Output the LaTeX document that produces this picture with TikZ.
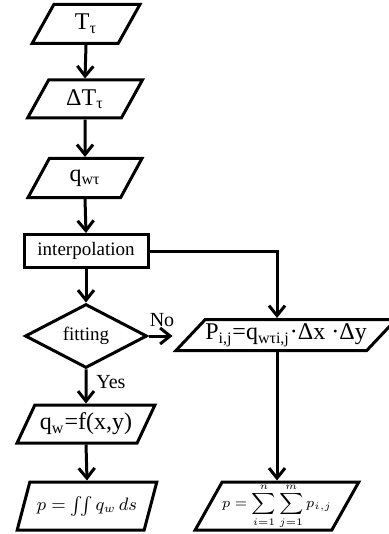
\documentclass[tikz,border=0pt]{standalone}
\usepackage{amsmath}
\usepackage{fontspec}
\setmainfont{Liberation Serif}
\usetikzlibrary{positioning,arrows.meta,shapes.geometric}

\begin{document}
\begin{tikzpicture}[x=0.5pt,y=-0.5pt,
    every node/.style={font=\fontsize{12}{14}\selectfont,align=center,inner sep=0pt},
    io/.style 2 args={trapezium,trapezium left angle=#1,trapezium right angle=#2,
                      trapezium stretches=true,draw,line width=1.5pt},
    proc/.style={rectangle,draw,line width=1.5pt,font=\fontsize{9.5}{11}\selectfont},
    decide/.style={diamond,draw,line width=1.5pt,font=\fontsize{9.5}{11}\selectfont},
    formula/.style={font=\fontsize{9}{11}\selectfont},
    tag/.style={font=\fontsize{10}{12}\selectfont},
    flow/.style={line width=1.5pt,-{Straight Barb[length=5pt,width=8pt]}},
  ]
  \useasboundingbox (0,0) rectangle (388,534);
  % left column
  \node[io={69}{111},minimum width=54pt,minimum height=19.5pt]
        (tt) at (86,24) {T\textsubscript{τ}};
  \node[io={61}{119},minimum width=57.5pt,minimum height=19pt]
        (dt) at (85,99) {ΔT\textsubscript{τ}};
  \node[io={61}{119},minimum width=57pt,minimum height=19.5pt]
        (qwt) at (85,178) {q\textsubscript{wτ}};
  \node[proc,minimum width=62pt,minimum height=16.5pt]
        (interp) at (86,251) {interpolation};
  \node[decide,minimum width=61pt,minimum height=31pt]
        (fit) at (86,336) {fitting};
  \node[io={54}{126},minimum width=69pt,minimum height=19pt]
        (qw) at (86,424) {q\textsubscript{w}=f(x,y)};
  \node[io={61}{119},formula,minimum width=70pt,minimum height=24pt]
        (pint) at (87,506) {$p=\iint q_{w}\,ds$};
  % right column
  \node[io={38}{142},minimum width=101pt,minimum height=15.5pt]
        (pij) at (286,335) {P\textsubscript{i,j}=q\textsubscript{wτi,j}·Δx ·Δy};
  \node[io={60}{120},formula,font=\fontsize{7.5}{9}\selectfont,
        minimum width=74pt,minimum height=24pt]
        (psum) at (277,506) {$\displaystyle p=\sum_{i=1}^{n}\sum_{j=1}^{m}p_{i,j}$};
  % labels
  \node[tag] (no) at (162,320) {No};
  \node[tag,anchor=west] (yes) at (96,382) {Yes};
  % connectors
  \draw[flow] (tt.south) -- (dt.north);
  \draw[flow] (dt.south) -- (qwt.north);
  \draw[flow] (qwt.south) -- (interp.north);
  \draw[flow] (interp.south) -- (fit.north);
  \draw[flow] (fit.south) -- (qw.north);
  \draw[flow] (qw.south) -- (pint.north);
  \draw[flow] (interp.east) -| (pij.north -| psum.north);
  \draw[flow] (fit.east) -- (fit.east -| pij.bottom left corner);
  \draw[flow] (pij.south -| psum.north) -- (psum.north);
\end{tikzpicture}
\end{document}
